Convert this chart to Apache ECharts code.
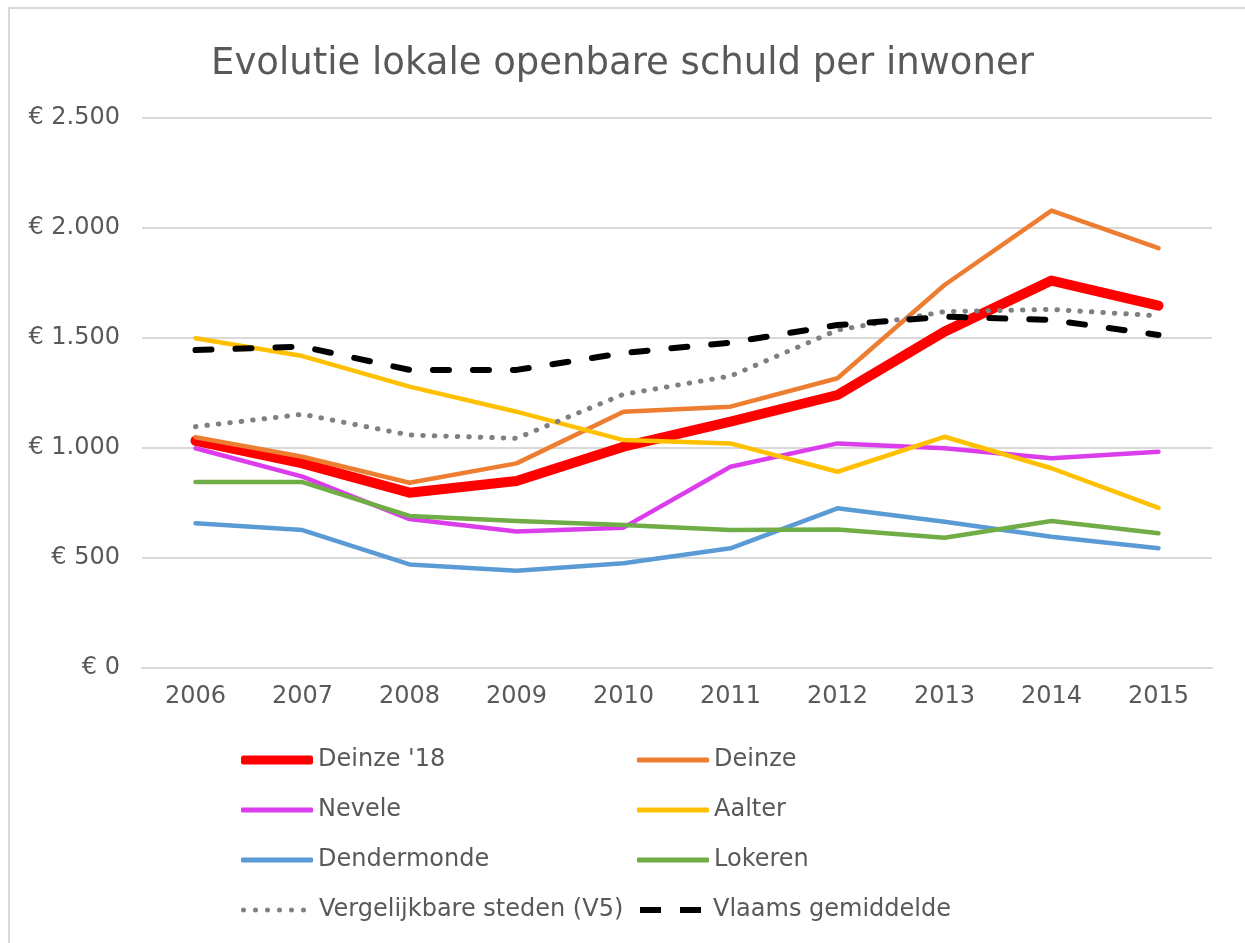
<!DOCTYPE html>
<html lang="nl">

<head>
    <meta charset="utf-8">
    <title>Evolutie lokale openbare schuld per inwoner</title>
    <script src="https://cdn.jsdelivr.net/npm/echarts@6/dist/echarts.min.js"></script>
    <style>
        html,
        body {
            margin: 0;
            height: 100%;
            background: #fff;
        }

        #chart {
            width: 1245px;
            height: 943px;
        }
    </style>
</head>

<body>
    <div id="chart"></div>
    <script>
        // jaren
        var years = ['2006', '2007', '2008', '2009', '2010', '2011', '2012', '2013', '2014', '2015'];

        // schuld per inwoner (euro)
        var deinze18 = [1033, 930, 797, 850, 1006, 1120, 1241, 1529, 1761, 1647];
        var deinze = [1049, 960, 842, 930, 1165, 1188, 1317, 1741, 2079, 1908];
        var nevele = [999, 870, 677, 620, 638, 915, 1021, 999, 953, 983];
        var aalter = [1499, 1418, 1279, 1165, 1036, 1021, 892, 1051, 908, 728];
        var dendermonde = [658, 627, 471, 442, 476, 544, 726, 665, 597, 544];
        var lokeren = [845, 845, 691, 668, 650, 627, 630, 592, 668, 612];
        var v5 = [1097, 1153, 1059, 1044, 1244, 1327, 1536, 1620, 1630, 1601];
        var vlaams = [1445, 1461, 1355, 1355, 1432, 1479, 1559, 1597, 1582, 1514];

        var yTicks = [0, 500, 1000, 1500, 2000, 2500];

        var font = 'DejaVu Sans';
        var grey = '#595959';

        function euro(v) {
            return '€ ' + String(v).replace(/\B(?=(\d{3})+(?!\d))/g, '.');
        }

        function line(name, data, color, width, type) {
            return {
                name: name,
                type: 'line',
                data: data,
                symbol: 'none',
                lineStyle: {
                    color: color,
                    width: width,
                    type: type || 'solid',
                    cap: 'round',
                    join: 'round'
                },
                itemStyle: { color: color },
                emphasis: { disabled: true }
            };
        }

        // legend-iconen
        var dotsIcon = 'path://';
        for (var i = 0; i < 6; i++) {
            var cx = 2.5 + i * 12;
            dotsIcon += 'M' + (cx - 2.5) + ',2.5 a2.5,2.5 0 1,0 5,0 a2.5,2.5 0 1,0 -5,0 Z ';
        }
        var dashIcon = 'path://M0,0h21v6h-21z M40,0h21v6h-21z';

        // een legende per item, twee kolommen
        function legendItem(name, left, row, icon, w, h, pad) {
            return {
                orient: 'vertical',
                left: left,
                top: 758 + row * 50 - 12,
                padding: 0,
                itemWidth: w,
                itemHeight: h,
                icon: icon,
                selectedMode: false,
                textStyle: {
                    fontFamily: font, fontSize: 24, color: grey, lineHeight: 28,
                    padding: [0, 0, 0, pad || 0]
                },
                data: [name]
            };
        }

        var chart = echarts.init(document.getElementById('chart'), null, { renderer: 'canvas' });

        chart.setOption({
            animation: false,
            backgroundColor: '#fff',
            graphic: [{
                type: 'rect',
                shape: { x: 9, y: 8, width: 1400, height: 1100 },
                style: { fill: null, stroke: '#d9d9d9', lineWidth: 2 },
                silent: true
            }],
            title: {
                text: 'Evolutie lokale openbare schuld per inwoner',
                left: 'center',
                top: 41,
                textStyle: { fontFamily: font, fontSize: 37, fontWeight: 'normal', color: grey }
            },
            legend: [
                legendItem("Deinze '18", 241, 0, 'roundRect', 72, 9),
                legendItem('Nevele', 241, 1, 'roundRect', 72, 5),
                legendItem('Dendermonde', 241, 2, 'roundRect', 72, 5),
                legendItem('Vergelijkbare steden (V5)', 241, 3, dotsIcon, 65, 5, 8),
                legendItem('Deinze', 637, 0, 'roundRect', 72, 5),
                legendItem('Aalter', 637, 1, 'roundRect', 72, 5),
                legendItem('Lokeren', 637, 2, 'roundRect', 72, 5),
                legendItem('Vlaams gemiddelde', 640, 3, dashIcon, 61, 6, 7)
            ],
            grid: { left: 142, right: 33, top: 118, bottom: 275, containLabel: false },
            xAxis: {
                type: 'category',
                data: years,
                boundaryGap: true,
                axisLine: { lineStyle: { color: '#d9d9d9', width: 2 } },
                axisTick: { show: false },
                axisLabel: { fontFamily: font, fontSize: 24, color: grey, margin: 17 }
            },
            yAxis: {
                type: 'value',
                min: yTicks[0],
                max: yTicks[yTicks.length - 1],
                interval: 500,
                axisLine: { show: false },
                axisTick: { show: false },
                splitLine: { lineStyle: { color: '#d9d9d9', width: 2 } },
                axisLabel: { fontFamily: font, fontSize: 24, color: grey, margin: 22, formatter: euro }
            },
            series: [
                line("Deinze '18", deinze18, '#ff0000', 10),
                line('Deinze', deinze, '#ed7d31', 4.5),
                line('Nevele', nevele, '#db3ded', 4.5),
                line('Aalter', aalter, '#ffc000', 4.5),
                line('Dendermonde', dendermonde, '#5b9bd5', 4.5),
                line('Lokeren', lokeren, '#70ad47', 4.5),
                line('Vergelijkbare steden (V5)', v5, '#808080', 5, [0.5, 11]),
                line('Vlaams gemiddelde', vlaams, '#000000', 6, [16, 24])
            ]
        });
    </script>
</body>

</html>
